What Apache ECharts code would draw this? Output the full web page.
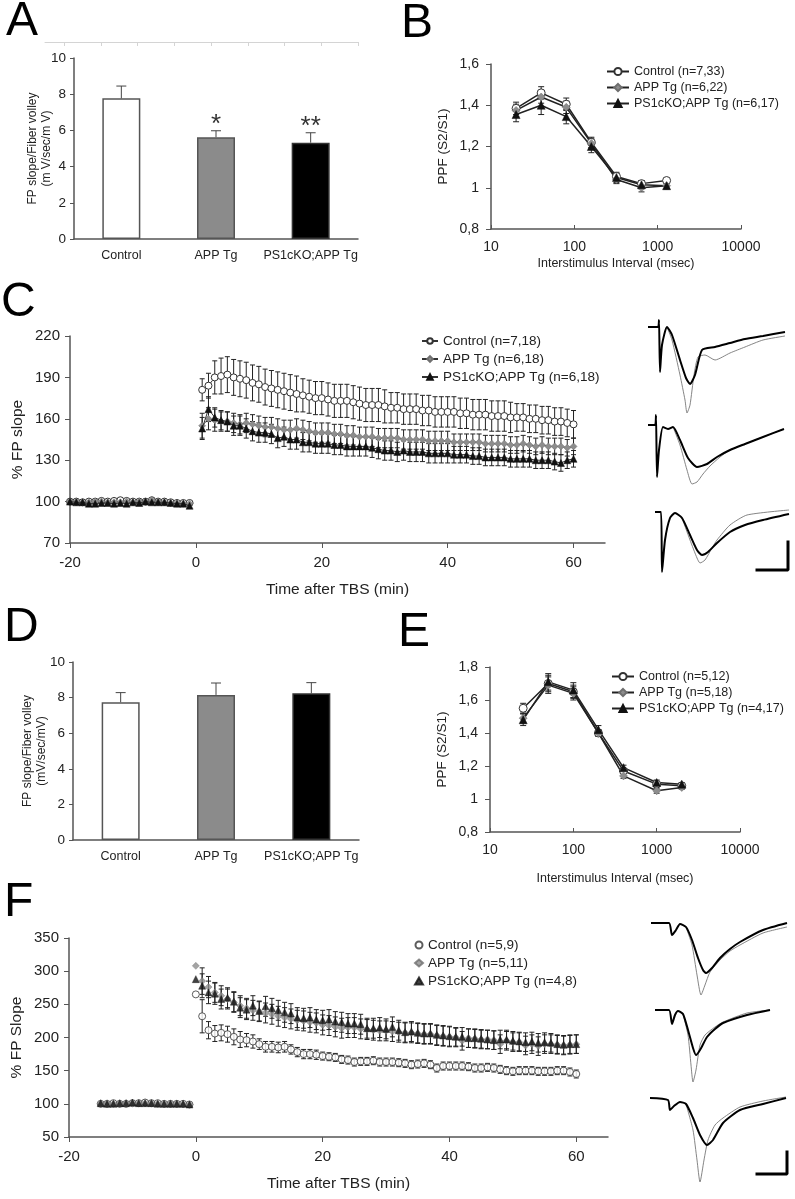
<!DOCTYPE html>
<html>
<head>
<meta charset="utf-8">
<script src="https://cdn.jsdelivr.net/npm/echarts@6/dist/echarts.min.js"></script>
<style>
  html, body { margin: 0; padding: 0; background: #fff; }
  #chart { width: 795px; height: 1199px; }
</style>
</head>
<body>
<div id="chart"></div>
<script>
// ---- data ----
const groups = ['Control', 'APP Tg', 'PS1cKO;APP Tg'];

// A / D: FP slope / fiber volley
const ratioA = [7.77, 5.62, 5.32];
const ratioAErr = [0.68, 0.36, 0.55];
const ratioASig = ['', '*', '**'];
const ratioD = [7.74, 8.15, 8.24];
const ratioDErr = [0.54, 0.67, 0.6];

// B: PPF
const isiB = [20, 40, 80, 160, 320, 640, 1280];
const ppfBControl = [1.385, 1.46, 1.405, 1.22, 1.055, 1.02, 1.035];
const ppfBControlErr = [0.03, 0.03, 0.03, 0.025, 0.015, 0.015, 0.01];
const ppfBApp = [1.375, 1.44, 1.39, 1.215, 1.04, 1.0, 1.01];
const ppfBAppErr = [0.03, 0.03, 0.03, 0.025, 0.02, 0.02, 0.015];
const ppfBPs1 = [1.355, 1.40, 1.345, 1.20, 1.05, 1.015, 1.01];
const ppfBPs1Err = [0.035, 0.045, 0.035, 0.03, 0.025, 0.02, 0.015];

// E: PPF
const isiE = [25, 50, 100, 200, 400, 1000, 2000];
const ppfEControl = [1.55, 1.70, 1.65, 1.40, 1.17, 1.09, 1.08];
const ppfEControlErr = [0.03, 0.05, 0.04, 0.02, 0.015, 0.015, 0.01];
const ppfEApp = [1.49, 1.69, 1.64, 1.40, 1.14, 1.05, 1.07];
const ppfEAppErr = [0.03, 0.05, 0.04, 0.02, 0.015, 0.015, 0.01];
const ppfEPs1 = [1.48, 1.71, 1.66, 1.42, 1.19, 1.10, 1.09];
const ppfEPs1Err = [0.035, 0.05, 0.045, 0.025, 0.015, 0.015, 0.01];

// C: LTP time course
const minutesCPre = [-20, -19, -18, -17, -16, -15, -14, -13, -12, -11, -10, -9, -8, -7, -6, -5, -4, -3, -2, -1];
const minutesCPost = [1, 2, 3, 4, 5, 6, 7, 8, 9, 10, 11, 12, 13, 14, 15, 16, 17, 18, 19, 20,
  21, 22, 23, 24, 25, 26, 27, 28, 29, 30, 31, 32, 33, 34, 35, 36, 37, 38, 39, 40,
  41, 42, 43, 44, 45, 46, 47, 48, 49, 50, 51, 52, 53, 54, 55, 56, 57, 58, 59, 60];
const fpCControlPre = [100, 100, 99.5, 100, 100, 100.5, 100, 100.5, 101, 100.5, 100, 100, 100, 101, 100, 100, 99.5, 99, 99, 99];
const fpCAppPre = [100, 100, 99.5, 99.5, 100, 100, 99.5, 99.5, 99.5, 100, 99.5, 100, 100, 101, 100, 99.5, 99, 98.5, 98.5, 98.5];
const fpCPs1Pre = [100, 99.5, 99.5, 98.5, 98.5, 99, 99, 98.5, 99, 98.5, 99.5, 99, 100, 99.5, 99.5, 99.5, 99, 98.5, 98.5, 97];
const fpCControl = [181, 184, 190, 191, 192, 190, 189, 188, 186, 185, 183, 182, 181, 180, 179, 178, 177, 176, 175, 175,
  174, 173, 173, 173, 172, 171, 170, 170, 170, 169, 168, 168, 167, 167, 167, 166, 166, 165, 165, 165,
  165, 164, 164, 163, 163, 163, 162, 162, 162, 161, 161, 161, 160, 160, 159, 159, 158, 158, 157, 156];
const fpCControlErr = [8, 9, 12, 13, 13, 13, 13, 13, 13, 13, 13, 13, 13, 13, 13, 13, 12, 12, 12, 12,
  12, 12, 12, 12, 12, 12, 12, 12, 12, 12, 11, 11, 11, 11, 11, 11, 11, 11, 11, 11,
  11, 11, 11, 11, 11, 11, 11, 11, 11, 11, 10, 10, 10, 10, 10, 10, 10, 10, 10, 10];
const fpCApp = [155, 160, 159, 158, 158, 157, 156, 157, 156, 155, 154, 154, 153, 152, 152, 153, 152, 151, 150, 150,
  150, 149, 149, 148, 148, 147, 147, 147, 146, 146, 146, 146, 145, 145, 145, 145, 144, 144, 144, 144,
  143, 143, 143, 143, 143, 142, 142, 142, 142, 141, 141, 142, 141, 140, 141, 140, 140, 140, 139, 140];
const fpCAppErr = [9, 8, 8, 7, 7, 7, 7, 7, 7, 7, 7, 7, 7, 7, 7, 7, 7, 7, 7, 7,
  7, 7, 7, 7, 7, 7, 7, 7, 7, 7, 7, 7, 7, 7, 7, 7, 7, 7, 7, 7,
  6, 6, 6, 6, 6, 6, 6, 6, 6, 6, 6, 6, 6, 6, 6, 6, 6, 6, 6, 6];
const fpCPs1 = [153, 167, 161, 159, 158, 155, 155, 153, 151, 150, 150, 149, 146, 147, 145, 145, 143, 143, 142, 142,
  142, 141, 141, 140, 140, 140, 140, 139, 138, 137, 137, 136, 137, 136, 136, 136, 135, 135, 135, 135,
  134, 134, 134, 133, 133, 132, 132, 132, 132, 131, 131, 131, 131, 130, 130, 130, 129, 128, 130, 131];
const fpCPs1Err = [8, 9, 7, 7, 7, 7, 7, 7, 7, 7, 7, 7, 7, 7, 7, 7, 7, 7, 7, 7,
  7, 7, 7, 7, 7, 7, 7, 7, 7, 7, 7, 7, 7, 7, 7, 7, 7, 7, 7, 7,
  6, 6, 6, 6, 6, 6, 6, 6, 6, 6, 6, 6, 6, 6, 6, 6, 6, 6, 6, 6];

// F: LTP time course
const minutesFPre = [-15, -14, -13, -12, -11, -10, -9, -8, -7, -6, -5, -4, -3, -2, -1];
const minutesFPost = [0, 1, 2, 3, 4, 5, 6, 7, 8, 9, 10, 11, 12, 13, 14, 15, 16, 17, 18, 19, 20,
  21, 22, 23, 24, 25, 26, 27, 28, 29, 30, 31, 32, 33, 34, 35, 36, 37, 38, 39, 40,
  41, 42, 43, 44, 45, 46, 47, 48, 49, 50, 51, 52, 53, 54, 55, 56, 57, 58, 59, 60];
const fpFControlPre = [100, 100, 101, 100, 100, 101, 101, 102, 101, 101, 100, 100, 100, 100, 99];
const fpFAppPre = [100, 101, 100, 100, 101, 101, 101, 101, 101, 100, 100, 100, 100, 99, 99];
const fpFPs1Pre = [101, 100, 100, 101, 101, 102, 101, 101, 101, 100, 100, 100, 100, 100, 99];
const fpFControl = [265, 232, 211, 206, 207, 205, 201, 197, 196, 194, 190, 186, 186, 185, 186, 182, 178, 175, 175, 174, 172,
  171, 170, 167, 166, 163, 164, 164, 165, 163, 163, 163, 162, 161, 159, 160, 161, 159, 154, 157, 157,
  157, 157, 156, 154, 154, 155, 154, 152, 150, 149, 150, 150, 150, 149, 149, 149, 150, 150, 148, 145];
const fpFControlErr = [0, 25, 13, 12, 12, 12, 12, 12, 10, 10, 8, 8, 8, 8, 8, 7, 7, 7, 7, 7, 6,
  6, 6, 6, 6, 6, 6, 6, 6, 6, 6, 6, 6, 6, 6, 6, 6, 6, 6, 6, 6,
  6, 6, 6, 6, 6, 6, 6, 6, 6, 6, 6, 6, 6, 6, 6, 6, 6, 6, 6, 6];
const fpFApp = [308, 285, 276, 268, 263, 258, 253, 248, 244, 241, 239, 237, 235, 232, 230, 228, 226, 225, 223, 222, 219,
  218, 216, 214, 215, 215, 213, 212, 211, 210, 210, 209, 208, 207, 207, 206, 205, 205, 203, 202, 201,
  200, 195, 199, 198, 197, 197, 196, 190, 195, 193, 193, 188, 190, 187, 190, 190, 189, 188, 189, 190];
const fpFAppErr = [0, 20, 16, 15, 15, 15, 15, 15, 15, 15, 15, 15, 15, 15, 15, 15, 15, 15, 15, 15, 15,
  15, 15, 15, 15, 15, 15, 15, 15, 15, 15, 15, 15, 15, 15, 15, 15, 15, 15, 15, 15,
  14, 14, 14, 14, 14, 14, 14, 14, 14, 14, 14, 14, 14, 14, 14, 14, 14, 14, 14, 14];
const fpFPs1 = [288, 278, 268, 266, 258, 260, 254, 245, 242, 248, 240, 247, 244, 241, 238, 236, 230, 229, 230, 227, 226,
  227, 224, 223, 221, 221, 220, 214, 214, 215, 213, 216, 211, 208, 209, 207, 206, 206, 204, 203, 202,
  201, 201, 199, 199, 198, 197, 196, 197, 197, 195, 194, 193, 194, 192, 193, 192, 190, 189, 190, 190];
const fpFPs1Err = [0, 18, 17, 16, 15, 15, 15, 15, 15, 15, 15, 15, 15, 15, 15, 15, 15, 15, 15, 15, 15,
  15, 15, 15, 15, 15, 15, 15, 15, 15, 15, 15, 15, 15, 15, 15, 15, 15, 15, 15, 15,
  14, 14, 14, 14, 14, 14, 14, 14, 14, 14, 14, 14, 14, 14, 14, 14, 14, 14, 14, 14];

// sample field potential traces (time, amplitude), thin = baseline, thick = after TBS
const traceC1Thick = [[3, 0], [13, 0], [14, 7], [15, -45], [17, -18], [22, 0], [27, -8], [35, -33], [41, -51], [45, -57], [50, -48], [57, -23], [70, -20], [85, -16], [100, -12], [118, -9], [140, -5]];
const traceC1Thin = [[22, 0], [27, -13], [35, -48], [40, -73], [42, -86], [45, -78], [49, -48], [53, -30], [60, -28], [70, -33], [85, -26], [100, -20], [118, -13], [140, -9]];
const traceC2Thick = [[3, 2], [10, 2], [11, 12], [12, -50], [14, -23], [18, 0], [23, -2], [28, 0], [35, -13], [43, -31], [52, -40], [62, -37], [72, -30], [85, -23], [100, -17], [118, -10], [139, -2]];
const traceC2Thin = [[28, 0], [35, -18], [42, -43], [47, -57], [52, -55], [58, -47], [65, -39], [75, -30], [85, -23], [118, -10], [139, -2]];
const traceC3Thick = [[10, 1], [16, 1], [17, -59], [20, -27], [25, -5], [30, 0], [37, -5], [45, -22], [52, -37], [57, -42], [63, -39], [72, -30], [85, -19], [100, -12], [118, -7], [144, -1]];
const traceC3Thin = [[37, -5], [45, -27], [52, -45], [55, -50], [60, -47], [67, -35], [72, -27], [85, -12], [102, -2], [144, 3]];
const scaleBarC = [[112, -57], [143, -57], [143, -29]];
const traceF1Thick = [[6, 0], [24, 0], [27, -12], [31, -7], [35, -1], [41, -4], [47, -17], [53, -35], [58, -47], [61, -50], [67, -45], [75, -35], [85, -26], [95, -19], [118, -7], [142, 0]];
const traceF1Thin = [[41, -4], [47, -22], [52, -52], [56, -72], [60, -62], [65, -49], [75, -37], [85, -28], [95, -22], [118, -10], [142, -4]];
const traceF2Thick = [[10, 0], [24, 0], [27, -14], [30, -5], [33, -1], [38, -4], [43, -20], [48, -38], [51, -45], [55, -40], [62, -27], [70, -19], [78, -13], [102, -5], [125, 0]];
const traceF2Thin = [[38, -4], [43, -25], [46, -55], [48, -72], [51, -60], [55, -35], [60, -25], [70, -17], [78, -12], [102, -3], [125, 0]];
const traceF3Thick = [[5, 0], [23, -2], [25, -12], [29, -8], [35, -4], [41, -6], [48, -20], [55, -37], [62, -47], [68, -42], [78, -25], [95, -12], [118, -6], [141, 0]];
const traceF3Thin = [[41, -6], [48, -32], [52, -62], [55, -84], [59, -62], [63, -42], [70, -27], [78, -20], [95, -9], [118, -3], [141, 1]];
const scaleBarF = [[112, -76], [142, -76], [142, -54]];

// ---- styles ----
const FONT = '"Liberation Sans", Arial, Helvetica, sans-serif';
const AXIS = '#555';
const TEXT = '#222';

const markStyle = [
  { symbol: 'circle', itemStyle: { color: '#fff', borderColor: '#333', borderWidth: 1 } },
  { symbol: 'diamond', itemStyle: { color: '#8d8d8d', borderColor: '#6f6f6f', borderWidth: 0.5 } },
  { symbol: 'triangle', itemStyle: { color: '#111', borderColor: '#111', borderWidth: 0.5 } },
];
const barFill = [
  { color: '#fff', borderColor: '#555', borderWidth: 1.5 },
  { color: '#8b8b8b', borderColor: '#555', borderWidth: 1.5 },
  { color: '#000', borderColor: '#333', borderWidth: 1.5 },
];

const pairs = (xs, ys) => xs.map((x, i) => [x, ys[i]]);
const triples = (xs, ys, es) => xs.map((x, i) => [x, ys[i], es[i]]);
const commaFmt = (v) => String(Number(v.toFixed(1))).replace('.', ',');

// error bars drawn as I-beams (or T for bars)
function errorBars(capHalf, color, upOnly, stars) {
  return function (params, api) {
    const x = api.value(0);
    const y = api.value(1);
    const e = api.value(2);
    if (!e) return null;
    const top = api.coord([x, y + e]);
    const bot = api.coord([x, upOnly ? y : y - e]);
    const ls = { stroke: color, lineWidth: 1 };
    const children = [
      { type: 'line', shape: { x1: top[0], y1: top[1], x2: bot[0], y2: bot[1] }, style: ls },
      { type: 'line', shape: { x1: top[0] - capHalf, y1: top[1], x2: top[0] + capHalf, y2: top[1] }, style: ls },
    ];
    if (!upOnly) {
      children.push({ type: 'line', shape: { x1: bot[0] - capHalf, y1: bot[1], x2: bot[0] + capHalf, y2: bot[1] }, style: ls });
    }
    if (stars && stars[params.dataIndex]) {
      children.push({
        type: 'text', x: top[0], y: top[1] + 7,
        style: { text: stars[params.dataIndex], fill: '#333', font: '26px ' + FONT, align: 'center', verticalAlign: 'bottom' },
      });
    }
    return { type: 'group', children };
  };
}

const grids = [];
const xAxes = [];
const yAxes = [];
const series = [];
const legends = [];

function addGrid(g) {
  grids.push(Object.assign({ outerBoundsMode: 'none', containLabel: false }, g));
  return grids.length - 1;
}

const labelStyle = (size) => ({ color: TEXT, fontSize: size, fontFamily: FONT });
const nameStyle = (size) => ({ color: TEXT, fontSize: size, fontFamily: FONT, lineHeight: size + 2 });
const plainNum = (v) => String(v);

// ---- bar panels (A, D) ----
function barPanel(box, values, errs, stars, yName, nameGap) {
  const gi = addGrid(box);
  xAxes.push({
    gridIndex: gi, type: 'category', data: groups,
    axisLine: { onZero: false, lineStyle: { color: AXIS, width: 1.5 } },
    axisTick: { show: false },
    axisLabel: Object.assign({ margin: 10, interval: 0 }, labelStyle(12.5)),
  });
  yAxes.push({
    gridIndex: gi, type: 'value', min: 0, max: 10, interval: 2,
    splitLine: { show: false },
    axisLine: { show: true, onZero: false, lineStyle: { color: AXIS, width: 1.5 } },
    axisTick: { show: true, length: 4, lineStyle: { color: AXIS } },
    axisLabel: Object.assign({ margin: 8 }, labelStyle(13.5)),
    name: yName, nameLocation: 'middle', nameRotate: 90, nameGap: nameGap, nameMoveOverlap: false,
    nameTextStyle: nameStyle(12),
  });
  const ai = xAxes.length - 1;
  series.push({
    type: 'bar', xAxisIndex: ai, yAxisIndex: ai, barWidth: 38,
    data: values.map((v, i) => ({ value: v, itemStyle: barFill[i] })),
    silent: true,
  });
  series.push({
    type: 'custom', xAxisIndex: ai, yAxisIndex: ai, z: 3, silent: true,
    renderItem: errorBars(5, '#444', true, stars),
    encode: { x: 0, y: 1 },
    data: values.map((v, i) => [i, v, errs[i]]),
  });
}

barPanel({ left: 74, top: 58, width: 284, height: 181 }, ratioA, ratioAErr, ratioASig,
  'FP slope/Fiber volley\n(m V/sec/m V)', 20);
barPanel({ left: 73, top: 662, width: 286, height: 178 }, ratioD, ratioDErr, null,
  'FP slope/Fiber volley\n(mV/sec/mV)', 24);

// faint ruler above panel A
{
  const gi = addGrid({ left: 45, top: 40, width: 313, height: 2 });
  xAxes.push({
    gridIndex: gi, type: 'value', min: -0.52, max: 8,
    axisLine: { onZero: false, lineStyle: { color: '#d4d4d4', width: 1 } },
    axisTick: { show: true, length: 4, customValues: [0, 1, 2, 3, 4, 5, 6, 7, 8], lineStyle: { color: '#d4d4d4' } },
    axisLabel: { show: false }, splitLine: { show: false },
  });
  yAxes.push({ gridIndex: gi, type: 'value', show: false });
}

// ---- PPF panels (B, E) ----
function ppfPanel(box, xs, groupsData, yMax, names, legendPos, titleGap) {
  const gi = addGrid(box);
  xAxes.push({
    gridIndex: gi, type: 'log', logBase: 10, min: 10, max: 10000,
    axisLine: { onZero: false, lineStyle: { color: AXIS, width: 1.5 } },
    axisTick: { show: true, inside: true, length: 4, lineStyle: { color: AXIS } },
    minorTick: { show: false },
    splitLine: { show: false },
    axisLabel: Object.assign({ margin: 11, formatter: plainNum }, labelStyle(14)),
    name: 'Interstimulus Interval (msec)', nameLocation: 'middle', nameGap: titleGap, nameMoveOverlap: false,
    nameTextStyle: nameStyle(12.5),
  });
  yAxes.push({
    gridIndex: gi, type: 'value', min: 0.8, max: yMax, interval: 0.2,
    splitLine: { show: false },
    axisLine: { show: true, onZero: false, lineStyle: { color: AXIS, width: 1.5 } },
    axisTick: { show: true, length: 5, lineStyle: { color: AXIS } },
    axisLabel: Object.assign({ margin: 12, formatter: commaFmt }, labelStyle(14)),
    name: 'PPF (S2/S1)', nameLocation: 'middle', nameRotate: 90, nameGap: 40, nameMoveOverlap: false,
    nameTextStyle: nameStyle(13.5),
  });
  const ai = xAxes.length - 1;
  groupsData.forEach((g, k) => {
    series.push({
      type: 'custom', xAxisIndex: ai, yAxisIndex: ai, z: 2, silent: true,
      renderItem: errorBars(3, '#222', false),
      encode: { x: 0, y: 1 },
      data: triples(xs, g[0], g[1]),
    });
    series.push(Object.assign({
      type: 'line', name: names[k], xAxisIndex: ai, yAxisIndex: ai, z: 3,
      symbolSize: 8, data: pairs(xs, g[0]),
      lineStyle: { color: '#222', width: 1.5 },
    }, markStyle[k]));
  });
  legends.push(Object.assign({
    orient: 'vertical', data: names, itemGap: 3, itemWidth: 22, itemHeight: 9,
    textStyle: labelStyle(12.5), padding: 0,
  }, legendPos));
}

ppfPanel({ left: 491, top: 64, width: 250, height: 165 }, isiB,
  [[ppfBControl, ppfBControlErr], [ppfBApp, ppfBAppErr], [ppfBPs1, ppfBPs1Err]], 1.6,
  ['Control (n=7,33)', 'APP Tg (n=6,22)', 'PS1cKO;APP Tg (n=6,17)'],
  { left: 606, top: 65 }, 27);
ppfPanel({ left: 490, top: 667, width: 250, height: 165 }, isiE,
  [[ppfEControl, ppfEControlErr], [ppfEApp, ppfEAppErr], [ppfEPs1, ppfEPs1Err]], 1.8,
  ['Control (n=5,12)', 'APP Tg (n=5,18)', 'PS1cKO;APP Tg (n=4,17)'],
  { left: 611, top: 670 }, 39);

// ---- time course panels (C, F) ----
function timePanel(box, yRange, yTicks, yName, pre, post, groupsData, names, asLine, legendPos) {
  const gi = addGrid(box);
  xAxes.push({
    gridIndex: gi, type: 'value', min: -20, max: 65,
    axisLine: { onZero: false, lineStyle: { color: AXIS, width: 1.5 } },
    axisTick: { show: true, length: 5, customValues: [-20, 0, 20, 40, 60], lineStyle: { color: AXIS } },
    axisLabel: Object.assign({ margin: 12, customValues: [-20, 0, 20, 40, 60] }, labelStyle(15)),
    splitLine: { show: false },
    name: 'Time after TBS (min)', nameLocation: 'middle', nameGap: 38, nameMoveOverlap: false,
    nameTextStyle: nameStyle(15.5),
  });
  yAxes.push({
    gridIndex: gi, type: 'value', min: yRange[0], max: yRange[1],
    axisLine: { show: true, onZero: false, lineStyle: { color: AXIS, width: 1.5 } },
    axisTick: { show: true, length: 5, customValues: yTicks, lineStyle: { color: AXIS } },
    axisLabel: Object.assign({ margin: 10, customValues: yTicks }, labelStyle(15)),
    splitLine: { show: false },
    name: yName, nameLocation: 'middle', nameRotate: 90, nameGap: 44, nameMoveOverlap: false,
    nameTextStyle: nameStyle(15.5),
  });
  const ai = xAxes.length - 1;
  groupsData.forEach((g, k) => {
    series.push({
      type: 'custom', xAxisIndex: ai, yAxisIndex: ai, z: 2, silent: true,
      renderItem: errorBars(2.5, '#222', false),
      encode: { x: 0, y: 1 },
      data: triples(post, g[1], g[2]),
    });
    const pts = pairs(pre, g[0]).concat([[(pre[pre.length - 1] + post[0]) / 2, '-']], pairs(post, g[1]));
    const s = Object.assign({
      type: asLine ? 'line' : 'scatter', name: names[k], xAxisIndex: ai, yAxisIndex: ai, z: 3 + k,
      symbolSize: 7, data: pts,
    }, markStyle[k]);
    if (asLine) {
      s.lineStyle = { color: '#333', width: 1 };
      s.connectNulls = false;
    }
    series.push(s);
  });
  legends.push(Object.assign({
    orient: 'vertical', data: names, itemGap: 4, itemWidth: asLine ? 16 : 8, itemHeight: 7,
    textStyle: labelStyle(13.5), padding: 0,
  }, legendPos));
}

timePanel({ left: 70, top: 336, width: 535, height: 207 }, [70, 220], [70, 100, 130, 160, 190, 220], '% FP slope',
  minutesCPre, minutesCPost,
  [[fpCControlPre, fpCControl, fpCControlErr], [fpCAppPre, fpCApp, fpCAppErr], [fpCPs1Pre, fpCPs1, fpCPs1Err]],
  ['Control (n=7,18)', 'APP Tg (n=6,18)', 'PS1cKO;APP Tg (n=6,18)'], true,
  { left: 421, top: 334 });
timePanel({ left: 69, top: 938, width: 539, height: 199 }, [50, 350], [50, 100, 150, 200, 250, 300, 350], '% FP Slope',
  minutesFPre, minutesFPost,
  [[fpFControlPre, fpFControl, fpFControlErr], [fpFAppPre, fpFApp, fpFAppErr], [fpFPs1Pre, fpFPs1, fpFPs1Err]],
  ['Control (n=5,9)', 'APP Tg (n=5,11)', 'PS1cKO;APP Tg (n=4,8)'], false,
  { left: 414, top: 938 });

// ---- sample traces ----
function tracePanel(top, yMin, yMax, thick, thin, bar) {
  const gi = addGrid({ left: 645, top: top, width: 150, height: yMax - yMin });
  xAxes.push({ gridIndex: gi, type: 'value', min: 0, max: 150, show: false });
  yAxes.push({ gridIndex: gi, type: 'value', min: yMin, max: yMax, show: false });
  const ai = xAxes.length - 1;
  const base = { type: 'line', xAxisIndex: ai, yAxisIndex: ai, symbol: 'none', silent: true, clip: false, smooth: 0.2 };
  series.push(Object.assign({}, base, { data: thin, lineStyle: { color: '#777', width: 0.9 }, z: 2 }));
  series.push(Object.assign({}, base, { data: thick, lineStyle: { color: '#000', width: 2 }, z: 3 }));
  if (bar) {
    series.push(Object.assign({}, base, { smooth: false, data: bar, lineStyle: { color: '#000', width: 3, cap: 'square' }, z: 3 }));
  }
}

tracePanel(317, -90, 10, traceC1Thick, traceC1Thin);
tracePanel(412, -60, 15, traceC2Thick, traceC2Thin);
tracePanel(507, -62, 6, traceC3Thick, traceC3Thin, scaleBarC);
tracePanel(918, -75, 5, traceF1Thick, traceF1Thin);
tracePanel(995, -75, 15, traceF2Thick, traceF2Thin);
tracePanel(1093, -86, 5, traceF3Thick, traceF3Thin, scaleBarF);

// ---- panel letters ----
const letters = [['A', 6, -2], ['B', 401, 0], ['C', 1, 279], ['D', 4, 604], ['E', 398, 609], ['F', 4, 879]];

const chart = echarts.init(document.getElementById('chart'));
chart.setOption({
  backgroundColor: '#fff',
  animation: false,
  textStyle: { fontFamily: FONT },
  grid: grids,
  xAxis: xAxes,
  yAxis: yAxes,
  legend: legends,
  series: series,
  graphic: letters.map((l) => ({
    type: 'text', left: l[1], top: l[2], silent: true,
    style: { text: l[0], fill: '#000', font: '48px ' + FONT },
  })),
});
</script>
</body>
</html>
